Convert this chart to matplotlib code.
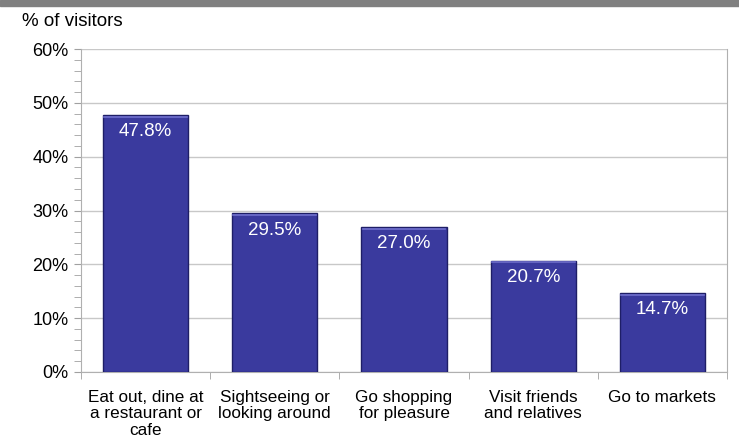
import matplotlib.pyplot as plt
from matplotlib.patches import Rectangle
from matplotlib.ticker import MultipleLocator, FuncFormatter

categories = ["Eat out, dine at\na restaurant or\ncafe",
              "Sightseeing or\nlooking around",
              "Go shopping\nfor pleasure",
              "Visit friends\nand relatives",
              "Go to markets"]
values = [47.8, 29.5, 27.0, 20.7, 14.7]

plt.rcParams['font.family'] = ['Liberation Sans', 'DejaVu Sans']

fig = plt.figure(figsize=(7.39, 4.42), dpi=100)
ax = fig.add_axes([0.1096, 0.1584, 0.8742, 0.7307])

# grey strip along the top
fig.patches.append(Rectangle((0, 1 - 6 / 442), 1, 6 / 442, transform=fig.transFigure,
                             color='#808080', zorder=0))

x = list(range(len(values)))
bars = ax.bar(x, values, width=0.66, color='#3a3a9e', edgecolor='#1e1e66',
              linewidth=1.0, zorder=3)
# light bevel on top of each bar
for b in bars:
    ax.plot([b.get_x() + 0.01, b.get_x() + b.get_width() - 0.01],
            [b.get_height() - 0.35] * 2, color='#6f6fcc', linewidth=1.2, zorder=4)

for xi, v in zip(x, values):
    ax.text(xi, v - 1.6, f"{v:.1f}%", ha='center', va='top', color='white',
            fontsize=13.5, zorder=5)

ax.set_xlim(-0.5, len(values) - 0.5)
ax.set_ylim(0, 60)
ax.yaxis.set_major_locator(MultipleLocator(10))
ax.yaxis.set_minor_locator(MultipleLocator(2))
ax.yaxis.set_major_formatter(FuncFormatter(lambda v, p: f"{v:.0f}%"))
ax.tick_params(axis='y', which='both', direction='out', length=5, color='#a0a0a0',
               labelsize=13, pad=4)
ax.grid(axis='y', which='major', color='#c8c8c8', linewidth=1, zorder=0)

ax.set_xticks(x)
ax.set_xticklabels(categories, fontsize=12.3, linespacing=1.12)
ax.set_xticks([i - 0.5 for i in range(len(values) + 1)], minor=True)
ax.tick_params(axis='x', which='major', length=0, pad=13)
ax.tick_params(axis='x', which='minor', direction='out', length=5, color='#a0a0a0')

for side in ['left', 'bottom', 'right']:
    ax.spines[side].set_color('#b0b0b0')
ax.spines['top'].set_visible(False)
ax.set_axisbelow(True)

fig.text(22 / 739, 1 - 22 / 442, "% of visitors", fontsize=13.5, va='center', ha='left')

fig.savefig('out.png', dpi=100)
